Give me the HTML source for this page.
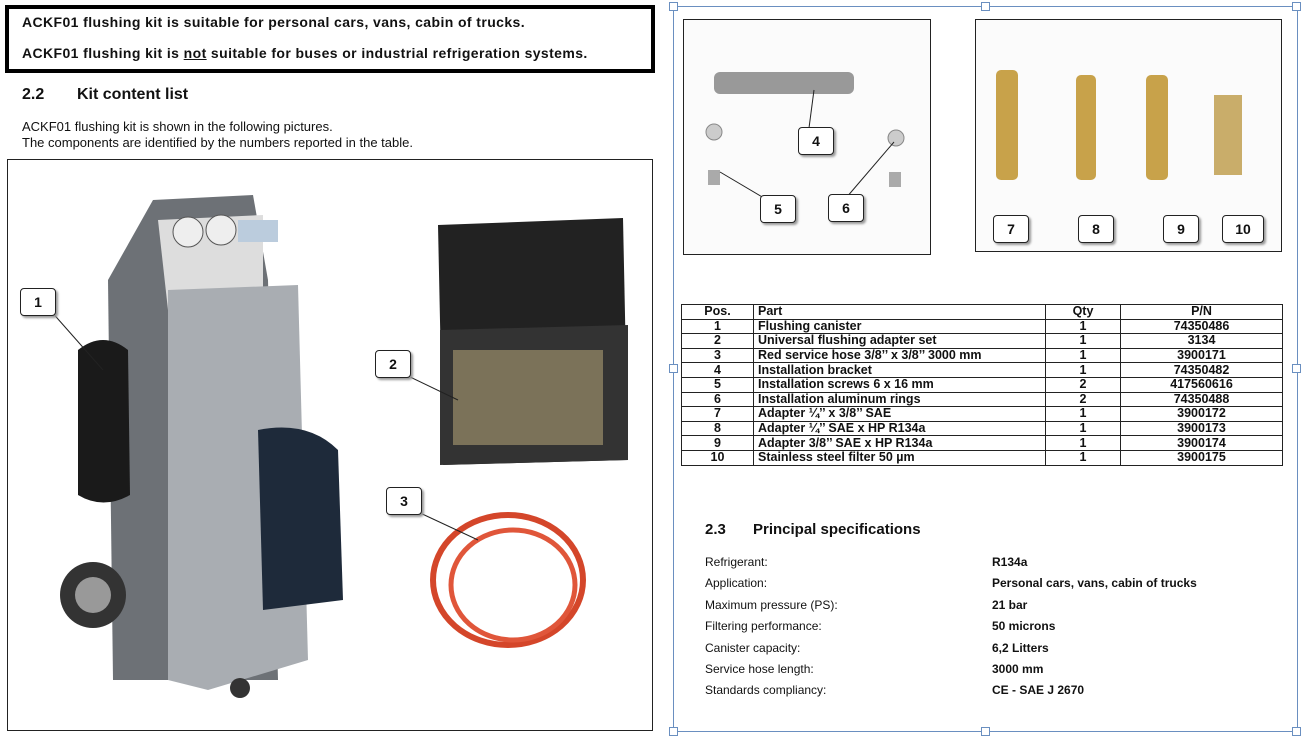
<!DOCTYPE html>
<html><head><meta charset="utf-8"><style>
body{margin:0;width:1307px;height:735px;background:#fff;position:relative;overflow:hidden;font-family:"Liberation Sans",sans-serif;color:#111}
.a{position:absolute;white-space:nowrap}
.b{font-weight:bold}
.call{position:absolute;width:34px;height:26px;border:1.5px solid #222;border-radius:4px;background:#fff;font:bold 14px "Liberation Sans",sans-serif;text-align:center;line-height:26px;box-shadow:2px 2px 2px #999}
table{position:absolute;left:681px;top:304px;border-collapse:collapse;font:bold 12.5px "Liberation Sans",sans-serif}
td{border:1px solid #222;height:13.6px;padding:0 4px;line-height:13px}
td.c{text-align:center}
.h{width:7px;height:7px;border:1px solid #6a8fc0;background:#fff;position:absolute}
</style></head><body>
<div class="a" style="left:5px;top:5px;width:642px;height:60px;border:4px solid #000"></div>
<div class="a b" style="left:22px;top:14px;font-size:14px;letter-spacing:0.4px">ACKF01 flushing kit is suitable for personal cars, vans, cabin of trucks.</div>
<div class="a b" style="left:22px;top:45px;font-size:14px;letter-spacing:0.4px">ACKF01 flushing kit is <u>not</u> suitable for buses or industrial refrigeration systems.</div>
<div class="a b" style="left:22px;top:86px;font-size:16px">2.2</div>
<div class="a b" style="left:77px;top:86px;font-size:16px">Kit content list</div>
<div class="a" style="left:22px;top:119px;font-size:13px">ACKF01 flushing kit is shown in the following pictures.</div>
<div class="a" style="left:22px;top:135px;font-size:13px">The components are identified by the numbers reported in the table.</div>
<div class="a" style="left:7px;top:159px;width:644px;height:570px;border:1px solid #222"></div>
<svg class="a" style="left:8px;top:160px" width="642" height="568">
<path d="M100 120 L145 40 L245 35 L260 120 L270 520 L105 520 Z" fill="#6d7176"/>
<path d="M150 60 L255 55 L255 140 L160 150 Z" fill="#ddd"/>
<circle cx="180" cy="72" r="15" fill="#eee" stroke="#555"/><circle cx="213" cy="70" r="15" fill="#eee" stroke="#555"/>
<rect x="230" y="60" width="40" height="22" fill="#bcd"/>
<path d="M160 130 L290 125 L300 500 L200 530 L160 520 Z" fill="#a9adb2"/>
<path d="M250 270 Q300 260 330 290 L335 440 L255 450 Z" fill="#1e2a3a"/>
<path d="M70 190 Q95 170 120 190 L122 335 Q95 350 70 335 Z" fill="#1a1a1a"/>
<circle cx="85" cy="435" r="33" fill="#333"/><circle cx="85" cy="435" r="18" fill="#999"/>
<circle cx="232" cy="528" r="10" fill="#333"/>
<path d="M430 65 L615 58 L620 300 L435 305 Z" fill="#222"/>
<path d="M432 170 L620 165 L620 300 L432 305 Z" fill="#333"/>
<rect x="445" y="190" width="150" height="95" fill="#9a8d6a" opacity=".7"/>
<ellipse cx="500" cy="420" rx="75" ry="65" fill="none" stroke="#d4462a" stroke-width="6"/>
<ellipse cx="505" cy="425" rx="62" ry="55" fill="none" stroke="#e0563a" stroke-width="5"/>
<line x1="42" y1="150" x2="95" y2="210" stroke="#222"/>
<line x1="398" y1="215" x2="450" y2="240" stroke="#222"/>
<line x1="410" y1="352" x2="470" y2="380" stroke="#222"/>
</svg>
<div class="call" style="left:20px;top:288px">1</div>
<div class="call" style="left:375px;top:350px">2</div>
<div class="call" style="left:386px;top:487px">3</div>
<div class="a" style="left:673px;top:6px;width:623px;height:724px;border:1px solid #6a8fc0"></div>
<div class="h" style="left:669px;top:2px"></div><div class="h" style="left:981px;top:2px"></div><div class="h" style="left:1292px;top:2px"></div>
<div class="h" style="left:669px;top:364px"></div><div class="h" style="left:1292px;top:364px"></div>
<div class="h" style="left:669px;top:727px"></div><div class="h" style="left:981px;top:727px"></div><div class="h" style="left:1292px;top:727px"></div>
<div class="a" style="left:683px;top:19px;width:246px;height:234px;border:1px solid #222;background:#fbfbfb"></div>
<div class="a" style="left:975px;top:19px;width:305px;height:231px;border:1px solid #222;background:#fbfbfb"></div>
<svg class="a" style="left:684px;top:20px" width="245" height="232">
<rect x="30" y="52" width="140" height="22" rx="6" fill="#999"/>
<circle cx="30" cy="112" r="8" fill="#ccc" stroke="#888"/><circle cx="212" cy="118" r="8" fill="#ccc" stroke="#888"/>
<rect x="24" y="150" width="12" height="15" fill="#aaa"/><rect x="205" y="152" width="12" height="15" fill="#aaa"/>
<line x1="130" y1="70" x2="125" y2="108" stroke="#222"/><line x1="36" y1="152" x2="80" y2="178" stroke="#222"/><line x1="210" y1="122" x2="162" y2="178" stroke="#222"/>
</svg>
<svg class="a" style="left:976px;top:20px" width="304" height="230">
<rect x="20" y="50" width="22" height="110" rx="5" fill="#c8a24a"/>
<rect x="100" y="55" width="20" height="105" rx="5" fill="#c8a24a"/>
<rect x="170" y="55" width="22" height="105" rx="5" fill="#c8a24a"/>
<rect x="238" y="75" width="28" height="80" fill="#c9ad6a"/>
</svg>
<div class="call" style="left:798px;top:127px">4</div>
<div class="call" style="left:760px;top:195px">5</div>
<div class="call" style="left:828px;top:194px">6</div>
<div class="call" style="left:993px;top:215px">7</div>
<div class="call" style="left:1078px;top:215px">8</div>
<div class="call" style="left:1163px;top:215px">9</div>
<div class="call" style="left:1222px;top:215px;width:40px">10</div>
<table>
<tr><td class="c" style="width:63px">Pos.</td><td style="width:283px">Part</td><td class="c" style="width:66px">Qty</td><td class="c" style="width:153px">P/N</td></tr>
<tr><td class="c">1</td><td>Flushing canister</td><td class="c">1</td><td class="c">74350486</td></tr>
<tr><td class="c">2</td><td>Universal flushing adapter set</td><td class="c">1</td><td class="c">3134</td></tr>
<tr><td class="c">3</td><td>Red service hose 3/8’’ x 3/8’’ 3000 mm</td><td class="c">1</td><td class="c">3900171</td></tr>
<tr><td class="c">4</td><td>Installation bracket</td><td class="c">1</td><td class="c">74350482</td></tr>
<tr><td class="c">5</td><td>Installation screws 6 x 16 mm</td><td class="c">2</td><td class="c">417560616</td></tr>
<tr><td class="c">6</td><td>Installation aluminum rings</td><td class="c">2</td><td class="c">74350488</td></tr>
<tr><td class="c">7</td><td>Adapter ¼’’ x 3/8’’ SAE</td><td class="c">1</td><td class="c">3900172</td></tr>
<tr><td class="c">8</td><td>Adapter ¼’’ SAE x HP R134a</td><td class="c">1</td><td class="c">3900173</td></tr>
<tr><td class="c">9</td><td>Adapter 3/8’’ SAE x HP R134a</td><td class="c">1</td><td class="c">3900174</td></tr>
<tr><td class="c">10</td><td>Stainless steel filter 50 µm</td><td class="c">1</td><td class="c">3900175</td></tr>
</table>
<div class="a b" style="left:705px;top:521px;font-size:15px">2.3</div>
<div class="a b" style="left:753px;top:521px;font-size:15px">Principal specifications</div>
<div class="a" style="left:705px;top:552px;font-size:12px;line-height:21.4px">Refrigerant:<br>Application:<br>Maximum pressure (PS):<br>Filtering performance:<br>Canister capacity:<br>Service hose length:<br>Standards compliancy:</div>
<div class="a b" style="left:992px;top:552px;font-size:12px;line-height:21.4px">R134a<br>Personal cars, vans, cabin of trucks<br>21 bar<br>50 microns<br>6,2 Litters<br>3000 mm<br>CE - SAE J 2670</div>
</body></html>
